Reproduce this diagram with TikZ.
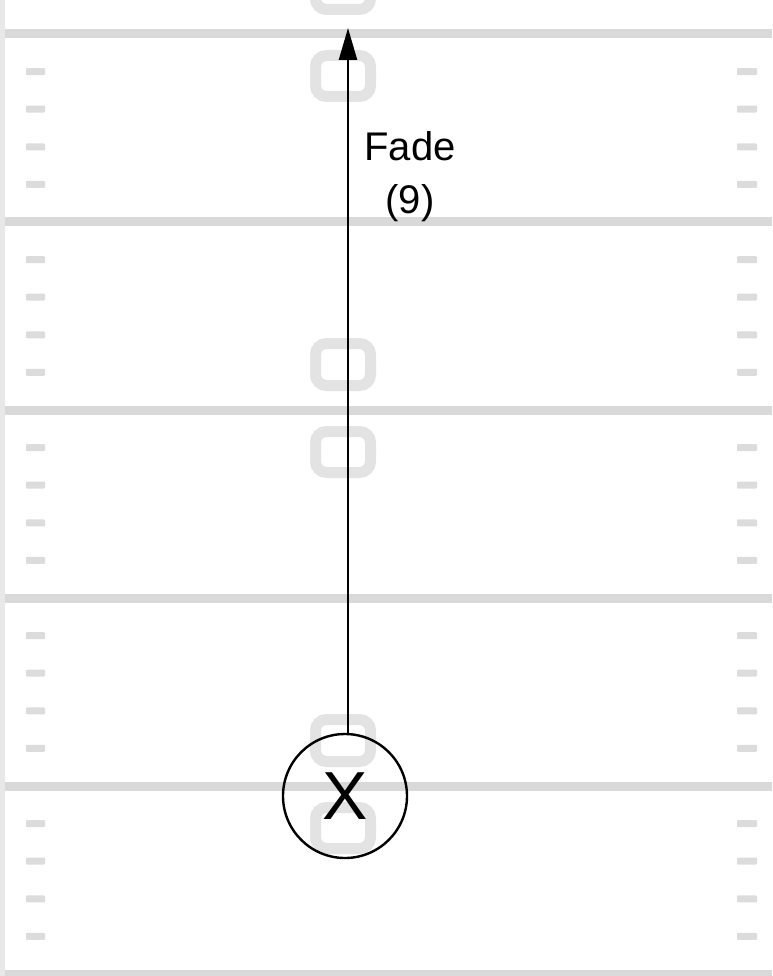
\documentclass[tikz,border=0pt]{standalone}
\usepackage{fontspec}
\setmainfont{Liberation Sans}
\usetikzlibrary{arrows.meta}
\definecolor{yardc}{HTML}{D9D9D9}
\definecolor{hashc}{HTML}{DCDCDC}
\definecolor{numc}{HTML}{E3E3E3}
\definecolor{borderc}{HTML}{E8E8E8}
\begin{document}
\begin{tikzpicture}[x=1pt,y={(0pt,-1pt)},
  yardline/.style={draw=yardc,line width=9pt},
  hashmark/.style={fill=hashc,rounded corners=1pt},
  numshape/.style={draw=numc,line width=11pt,rounded corners=11pt},
  player/.style={circle,draw=black,line width=2.4pt,minimum size=124pt,inner sep=0pt,font=\fontsize{68}{68}\selectfont},
  route/.style={draw=black,line width=2.4pt,-{Triangle[length=32pt,width=18pt]}},
  routelabel/.style={align=center,font=\fontsize{40}{53}\selectfont,inner sep=0pt}]
\useasboundingbox (0,0) rectangle (772,976);
\fill[white] (0,0) rectangle (772,976);
\fill[borderc] (0,0) rectangle (5,976);
% yard lines
\foreach \ly in {34,222,410,598,786,974} {
  \draw[yardline] (5,\ly) -- (772,\ly);
}
% hash marks
\foreach \ly in {-154,34,222,410,598,786} {
  \foreach \k in {1,2,3,4} {
    \fill[hashmark] (26,{\ly+\k*37.6-3.5}) rectangle (45,{\ly+\k*37.6+3.5});
    \fill[hashmark] (737,{\ly+\k*37.6-3.5}) rectangle (757,{\ly+\k*37.6+3.5});
  }
}
% yard number shapes
\foreach \ly in {34,410,786} {
  \draw[numshape] (315.5,{\ly-66.5}) rectangle (370.5,{\ly-24.5});
  \draw[numshape] (315.5,{\ly+21.5}) rectangle (370.5,{\ly+62.5});
}
% player and route
\node[player] (player) at (345,796) {X};
\coordinate (routeend) at (348,28);
\draw[route] ([xshift=3pt]player.north) -- (routeend);
\node[routelabel,anchor=north] (fadelabel) at (410,131) {Fade\\(9)};
\end{tikzpicture}
\end{document}
